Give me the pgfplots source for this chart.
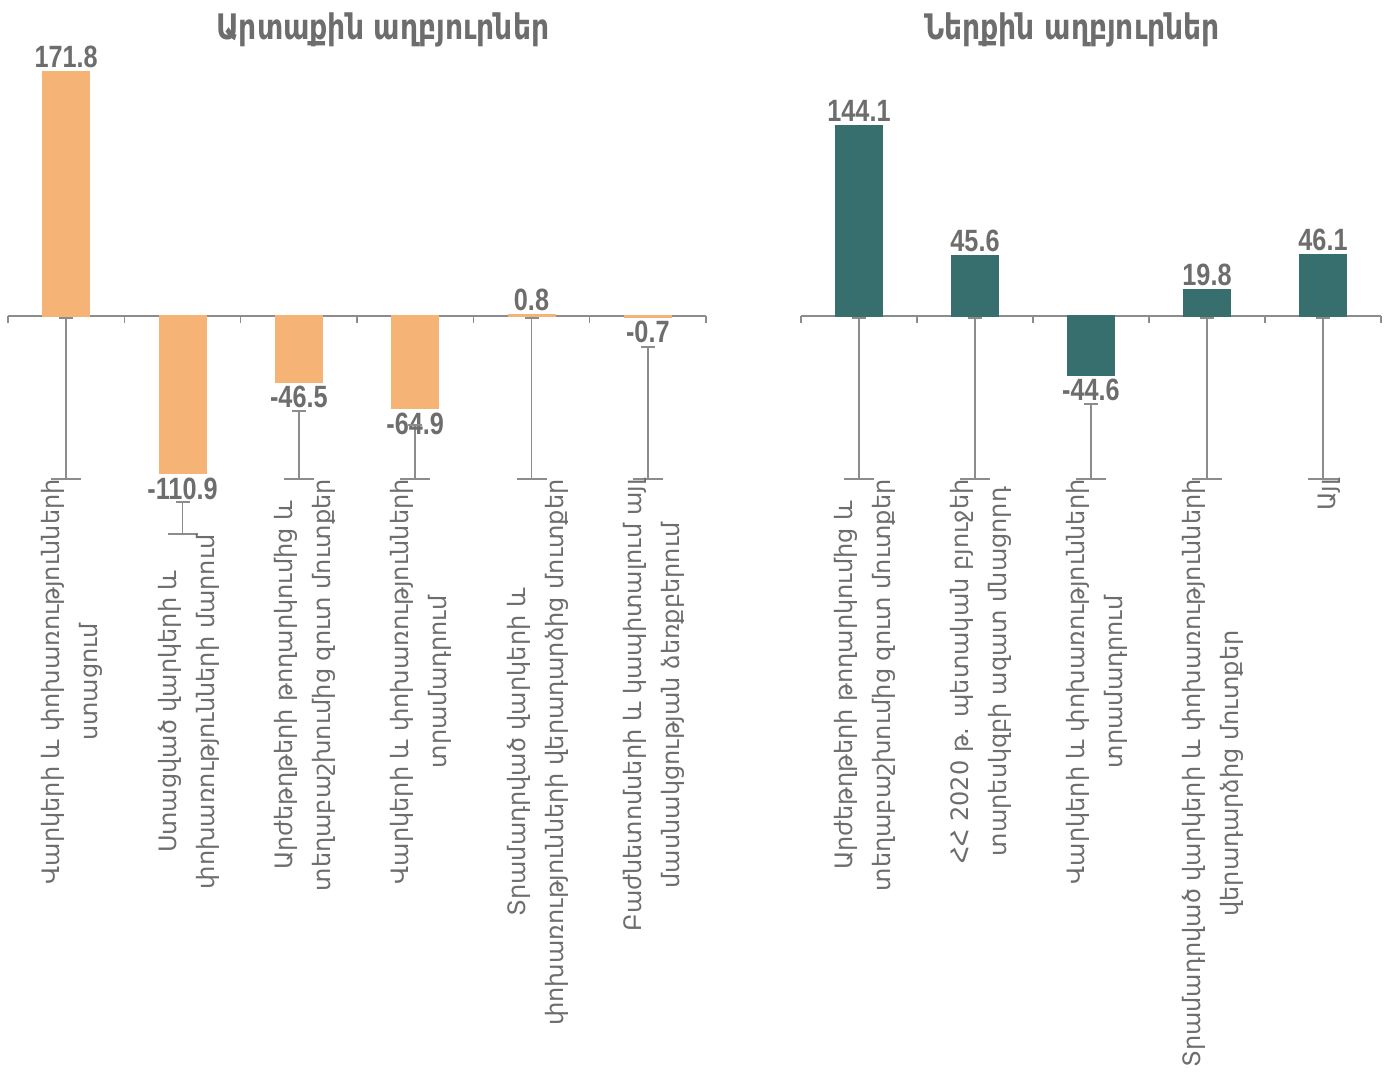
\documentclass[border=0pt]{standalone}
\usepackage{fontspec}
\usepackage{pgfplots}
\usepackage{pgfplotstable}
\pgfplotsset{compat=1.18}
\setmainfont{DejaVu Sans}
\newfontfamily\armfont{DejaVu Sans}
\newfontfamily\armtitle[FakeStretch=0.8]{DejaVu Sans}
\newfontfamily\numfont[FakeStretch=0.82]{Liberation Sans}
\definecolor{orangebar}{HTML}{F5B375}
\definecolor{tealbar}{HTML}{376E6E}
\definecolor{txtgray}{HTML}{6D6D6D}
\definecolor{axgray}{HTML}{8C8C8C}

\pgfplotstableread{
x y
0 171.8
1 -110.9
2 -46.5
3 -64.9
4 0.8
5 -0.7
}\extdata
\pgfplotstableread{
x t e
0 -1.4 113.4
1 -131.0 22.5
2 -66.9 47.9
3 -76.8 38.0
4 -1.4 113.4
5 -21.8 93.0
}\extlead
\pgfplotstableread{
x y
0 144.1
1 45.6
2 -44.6
3 19.8
4 46.1
}\intdata
\pgfplotstableread{
x t e
0 -1.5 122.0
1 -1.5 122.0
2 -66.7 56.8
3 -1.5 122.0
4 -1.5 122.0
}\intlead

\pgfplotsset{
  panel/.style={
    scale only axis, height=537.5pt, clip=false,
    axis x line=middle, axis y line=none,
    x axis line style={-, draw=axgray, line width=0.75pt},
    xtick align=outside, major tick length=3.5pt,
    xtick style={draw=axgray, line width=0.75pt},
    xticklabel=\empty, ytick=\empty,
    anchor=south west,
  },
  valbars/.style={
    ybar, bar width=23.2pt, draw=#1, line width=0.8pt, fill=#1,
    nodes near coords,
    nodes near coords style={
      /pgf/number format/fixed, /pgf/number format/fixed zerofill,
      /pgf/number format/precision=1, /pgf/number format/assume math mode=true,
      font=\numfont\bfseries\fontsize{15.4}{18}\selectfont, text=txtgray, inner sep=1.8pt},
  },
  leaders/.style={
    only marks, mark=-, mark size=3.5pt,
    mark options={draw=axgray, line width=0.75pt},
    error bars/.cd, y dir=minus, y explicit, error mark=-,
    error mark options={rotate=90, mark size=7.5pt, draw=axgray, line width=0.75pt},
    error bar style={draw=axgray, line width=0.75pt},
  },
}
\tikzset{
  catlabel/.style={rotate=90, anchor=east, align=center, yshift=-3pt,
    font=\armfont\fontsize{12}{19}\selectfont, text=txtgray, inner sep=0pt},
  paneltitle/.style={anchor=base, font=\armtitle\bfseries\fontsize{17.6}{20}\selectfont, text=txtgray},
}

\begin{document}
\begin{tikzpicture}
\path[use as bounding box] (0,0) rectangle (694pt,537.5pt);

\begin{axis}[panel, at={(4pt,0pt)}, width=349pt,
  xmin=-0.5, xmax=5.5, ymin=-534.5, ymax=222.5,
  xtick={-0.5,0.5,1.5,2.5,3.5,4.5,5.5}]
\addplot[valbars=orangebar] table[x=x,y=y] {\extdata};
\addplot[leaders] table[x=x, y=t, y error=e] {\extlead};
\node[paneltitle] at (axis cs:2.72,194.4) {Արտաքին աղբյուրներ};
\node[catlabel] at (axis cs:0,-114.8) {Վարկերի և փոխառությունների\\ստացում};
\node[catlabel] at (axis cs:1,-153.5) {Ստացված վարկերի և\\փոխառությունների մարում};
\node[catlabel] at (axis cs:2,-114.8) {Արժեթղթերի թողարկումից և\\տեղաբաշխումից զուտ մուտքեր};
\node[catlabel] at (axis cs:3,-114.8) {Վարկերի և փոխառությունների\\տրամադրում};
\node[catlabel] at (axis cs:4,-114.8) {Տրամադրված վարկերի և\\փոխառությունների վերադարձից մուտքեր};
\node[catlabel] at (axis cs:5,-114.8) {Բաժնետոմսերի և կապիտալում այլ\\մասնակցության ձեռքբերում};
\end{axis}

\begin{axis}[panel, at={(400.5pt,0pt)}, width=290pt,
  xmin=-0.5, xmax=4.5, ymin=-575.0, ymax=239.4,
  xtick={-0.5,0.5,1.5,2.5,3.5,4.5}]
\addplot[valbars=tealbar] table[x=x,y=y] {\intdata};
\addplot[leaders] table[x=x, y=t, y error=e] {\intlead};
\node[paneltitle] at (axis cs:1.836,209.1) {Ներքին աղբյուրներ};
\node[catlabel] at (axis cs:0,-123.5) {Արժեթղթերի թողարկումից և\\տեղաբաշխումից զուտ մուտքեր};
\node[catlabel] at (axis cs:1,-123.5) {ՀՀ 2020 թ. պետական բյուջեի\\տարեսկզբի ազատ մնացորդ};
\node[catlabel] at (axis cs:2,-123.5) {Վարկերի և փոխառությունների\\տրամադրում};
\node[catlabel] at (axis cs:3,-123.5) {Տրամադրված վարկերի և փոխառությունների\\վերադարձից մուտքեր};
\node[catlabel] at (axis cs:4,-123.5) {Այլ};
\end{axis}
\end{tikzpicture}
\end{document}
